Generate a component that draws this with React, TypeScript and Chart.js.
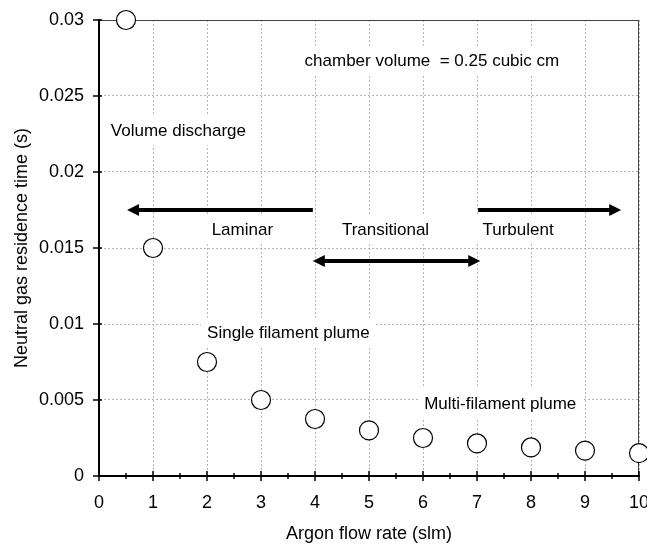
import React, { useEffect, useRef } from "react";
import { Chart, registerables } from "chart.js";

Chart.register(...registerables);

// ---- data ----
const flowRates = [0.5, 1, 2, 3, 4, 5, 6, 7, 8, 9, 10];
const residenceTimes = [0.03, 0.015, 0.0075, 0.005, 0.00375, 0.003, 0.0025, 0.00214, 0.00188, 0.00167, 0.0015];

const xMin = 0;
const xMax = 10;
const xTickLabels = ["0", "1", "2", "3", "4", "5", "6", "7", "8", "9", "10"];
const yMin = 0;
const yMax = 0.03;
const yStep = 0.005;

const noteTexts = [
  "chamber volume  = 0.25 cubic cm",
  "Volume discharge",
  "Laminar",
  "Transitional",
  "Turbulent",
  "Single filament plume",
  "Multi-filament plume",
];
const noteX = [6.165, 1.47, 2.655, 5.306, 7.76, 3.506, 7.43];
const noteY = [0.02732, 0.02276, 0.01623, 0.01623, 0.01623, 0.00943, 0.0048];

const arrowFromX = [3.96, 3.96, 7.02];
const arrowToX = [0.52, 7.06, 9.67];
const arrowY = [0.0175, 0.01414, 0.0175];
const arrowBothEnds = [false, true, false];

const FONT = '"Liberation Sans", Arial, sans-serif';

const decorPlugin = {
  id: "decor",
  beforeDatasetsDraw(chart: any) {
    const { ctx, chartArea: a, scales } = chart;
    const x = scales.x;
    const y = scales.y;
    ctx.save();

    // top & right frame
    ctx.strokeStyle = "#444";
    ctx.lineWidth = 1;
    ctx.beginPath();
    ctx.moveTo(a.left, Math.round(a.top) + 0.5);
    ctx.lineTo(a.right, Math.round(a.top) + 0.5);
    ctx.moveTo(Math.round(a.right) - 0.5, a.top);
    ctx.lineTo(Math.round(a.right) - 0.5, a.bottom);
    ctx.stroke();

    // x ticks (crossing the axis), majors + minors
    ctx.strokeStyle = "#000";
    ctx.lineWidth = 1.5;
    ctx.beginPath();
    for (let i = 0; i <= (xMax - xMin) * 2; i++) {
      const v = xMin + i * 0.5;
      const px = x.getPixelForValue(v);
      const major = i % 2 === 0;
      ctx.moveTo(px, a.bottom - (major ? 5 : 3));
      ctx.lineTo(px, a.bottom + (major ? 5 : 3));
    }
    // y ticks
    for (const t of y.ticks) {
      const py = y.getPixelForValue(t.value);
      ctx.moveTo(a.left - 6, py);
      ctx.lineTo(a.left + 3, py);
    }
    ctx.stroke();

    // x tick labels
    ctx.fillStyle = "#000";
    ctx.font = `18px ${FONT}`;
    ctx.textAlign = "center";
    ctx.textBaseline = "middle";
    xTickLabels.forEach((lbl) => {
      ctx.fillText(lbl, x.getPixelForValue(Number(lbl)), a.bottom + 27);
    });

    // text notes with white boxes
    ctx.font = `17px ${FONT}`;
    for (let i = 0; i < noteTexts.length; i++) {
      const cx = x.getPixelForValue(noteX[i]);
      const cy = y.getPixelForValue(noteY[i]);
      const w = ctx.measureText(noteTexts[i]).width;
      ctx.fillStyle = "#fff";
      ctx.fillRect(cx - w / 2 - 6, cy - 15, w + 12, 30);
      ctx.fillStyle = "#000";
      ctx.fillText(noteTexts[i], cx, cy + 1);
    }

    // arrows
    const head = (tipX: number, ty: number, dir: number) => {
      ctx.beginPath();
      ctx.moveTo(tipX, ty);
      ctx.lineTo(tipX - dir * 12, ty - 6);
      ctx.lineTo(tipX - dir * 12, ty + 6);
      ctx.closePath();
      ctx.fill();
    };
    ctx.fillStyle = "#000";
    ctx.strokeStyle = "#000";
    ctx.lineWidth = 4;
    for (let i = 0; i < arrowFromX.length; i++) {
      const x1 = x.getPixelForValue(arrowFromX[i]);
      const x2 = x.getPixelForValue(arrowToX[i]);
      const py = y.getPixelForValue(arrowY[i]);
      const dir = Math.sign(x2 - x1);
      const s = arrowBothEnds[i] ? x1 + dir * 8 : x1;
      ctx.beginPath();
      ctx.moveTo(s, py);
      ctx.lineTo(x2 - dir * 8, py);
      ctx.stroke();
      head(x2, py, dir);
      if (arrowBothEnds[i]) head(x1, py, -dir);
    }
    ctx.restore();
  },
};

export default function App() {
  const ref = useRef<HTMLCanvasElement | null>(null);
  useEffect(() => {
    if (!ref.current) return;
    const chart = new Chart(ref.current, {
      type: "scatter",
      data: {
        datasets: [
          {
            data: flowRates.map((v, i) => ({ x: v, y: residenceTimes[i] })),
            pointRadius: 9.5,
            pointHoverRadius: 9.5,
            pointBackgroundColor: "#fff",
            pointBorderColor: "#000",
            pointBorderWidth: 1.2,
            clip: false as any,
          },
        ],
      },
      options: {
        responsive: false,
        animation: false,
        devicePixelRatio: 1,
        layout: { autoPadding: false, padding: { left: 0, top: 20, right: 8, bottom: 0 } },
        plugins: { legend: { display: false }, tooltip: { enabled: false } },
        scales: {
          x: {
            type: "linear",
            min: xMin,
            max: xMax,
            ticks: { stepSize: 1, display: false },
            grid: { color: "#b5b5b5", lineWidth: 1, drawTicks: false },
            border: { display: true, color: "#000", width: 2, dash: [2, 2] },
            title: {
              display: true,
              text: "Argon flow rate (slm)",
              color: "#000",
              font: { family: FONT, size: 18 },
              padding: { top: 0, bottom: 0 },
            },
            afterFit: (s: any) => {
              s.height = 69;
              s.paddingLeft = 0;
              s.paddingRight = 0;
            },
          },
          y: {
            type: "linear",
            min: yMin,
            max: yMax,
            ticks: {
              stepSize: yStep,
              color: "#000",
              font: { family: FONT, size: 18 },
              padding: 15,
              callback: (v: any) => String(Number(Number(v).toFixed(4))),
            },
            grid: { color: "#b5b5b5", lineWidth: 1, drawTicks: false },
            border: { display: true, color: "#000", width: 2, dash: [2, 2] },
            title: {
              display: true,
              text: "Neutral gas residence time (s)",
              color: "#000",
              font: { family: FONT, size: 18 },
              padding: { top: 11, bottom: 0 },
            },
            afterFit: (s: any) => {
              s.width = 99;
              s.paddingTop = 0;
              s.paddingBottom = 0;
            },
          },
        },
      },
      plugins: [decorPlugin],
    });
    return () => chart.destroy();
  }, []);
  return (
    <div style={{ position: "absolute", left: 0, top: 0, width: 647, height: 545, background: "#fff" }}>
      <canvas ref={ref} width={647} height={545} />
    </div>
  );
}
